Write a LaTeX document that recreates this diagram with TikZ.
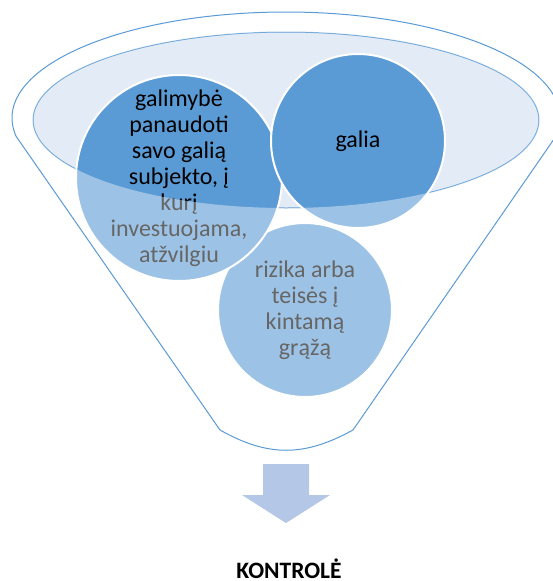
\documentclass[tikz,border=0pt]{standalone}
\usepackage{fontspec}
\setmainfont{Carlito}
\usepackage{xcolor}
\usetikzlibrary{calc}
\definecolor{funnelblue}{HTML}{5B9BD5}
\definecolor{rimfill}{HTML}{E3EBF6}
\definecolor{arrowblue}{HTML}{B4C7E7}

\begin{document}
\begin{tikzpicture}[
  x=1pt, y=-1pt,
  rim/.style    = {draw=funnelblue, line width=1pt},
  ball/.style   = {circle, fill=funnelblue, draw=white, line width=2pt,
                   inner sep=0pt},
  balltxt/.style= {align=center, inner sep=0pt, text=black,
                   font=\fontsize{24}{26}\selectfont},
  haze/.style   = {fill=white, fill opacity=0.4, even odd rule},
  down/.style   = {fill=arrowblue},
  ttl/.style    = {font=\fontsize{23.5}{26}\selectfont\bfseries, text=black,
                   inner sep=0pt}
]
\useasboundingbox (0,0) rectangle (552,581);

%%% ---- FUNNEL RIM ----
\draw[rim, fill=rimfill] (286,120) ellipse [x radius=253, y radius=88];

%%% ---- CIRCLES ----
\node[ball, minimum size=174pt,
      label={[balltxt]center:rizika arba\\teisės į\\kintamą\\grąžą}]
      (risk) at (305,310) {};
\node[ball, minimum size=206pt,
      label={[balltxt]center:galimybė\\panaudoti\\savo galią\\subjekto, į\\kurį\\investuojama,\\atžvilgiu}]
      (abil) at (179,178) {};
\node[ball, minimum size=174pt,
      label={[balltxt]center:galia}]
      (power) at (358,141) {};

%%% ---- LOWER PART SHADE ----
\fill[haze] (0,0) rectangle (552,581) (286,120) ellipse [x radius=253, y radius=88];

%%% ---- FUNNEL BODY ----
\draw[rim] (286,118) ++(170:274 and 106)
  arc[start angle=170, end angle=370, x radius=274, y radius=106]
  -- (353,430) .. controls (304,457) and (268,457) .. (220,430) -- cycle;

%%% ---- OUTPUT ----
\coordinate (neck) at (286,464);
\fill[down] (neck) ++(-23,0) -- ++(46,0) -- ++(0,31) -- ++(21,0)
  -- (286,523) -- (242,495) -- ++(21,0) -- cycle;
\node[ttl, anchor=base] (ctrl) at (289,578) {KONTROLĖ};
\end{tikzpicture}
\end{document}
